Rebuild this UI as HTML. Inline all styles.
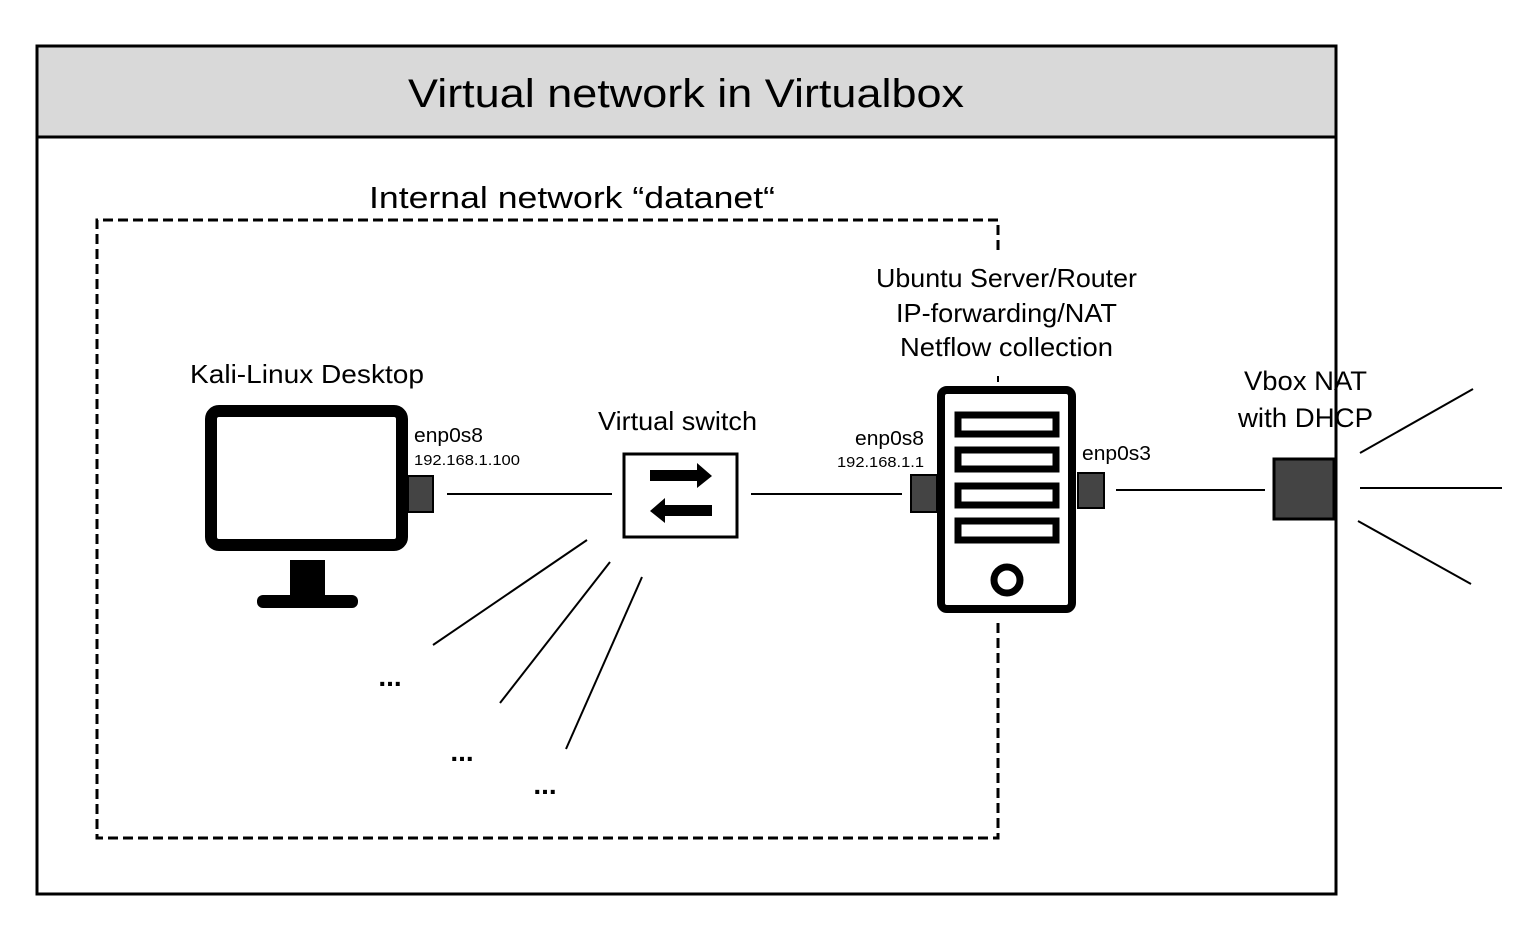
<!DOCTYPE html>
<html><head><meta charset="utf-8"><style>body{margin:0;background:#fff}svg{display:block}text{font-family:"Liberation Sans",sans-serif;fill:#000}</style></head><body>
<svg width="1515" height="931" viewBox="0 0 1515 931" xmlns="http://www.w3.org/2000/svg">
<rect x="37" y="46" width="1299" height="91" fill="#d9d9d9"/>
<rect x="37" y="46" width="1299" height="848" fill="none" stroke="#000" stroke-width="3"/>
<line x1="37" y1="137" x2="1336" y2="137" stroke="#000" stroke-width="3"/>
<text x="408" y="107" font-size="40" textLength="556" lengthAdjust="spacingAndGlyphs">Virtual network in Virtualbox</text>
<text x="369" y="208" font-size="31" textLength="406" lengthAdjust="spacingAndGlyphs">Internal network “datanet“</text>
<path d="M998 250 V220 H97 V838 H998 V618" fill="none" stroke="#000" stroke-width="3" stroke-dasharray="10,5"/>
<line x1="998" y1="376" x2="998" y2="382" stroke="#000" stroke-width="2"/>
<text x="190" y="383" font-size="26" textLength="234" lengthAdjust="spacingAndGlyphs">Kali-Linux Desktop</text>
<rect x="211" y="411" width="191" height="134" rx="8" fill="#fff" stroke="#000" stroke-width="12"/>
<rect x="290" y="560" width="35" height="40" fill="#000"/>
<rect x="257" y="595" width="101" height="13" rx="6" fill="#000"/>
<rect x="408" y="476" width="25" height="36" fill="#444" stroke="#000" stroke-width="2"/>
<text x="414" y="442" font-size="20" textLength="69" lengthAdjust="spacingAndGlyphs">enp0s8</text>
<text x="414" y="465" font-size="15" textLength="106" lengthAdjust="spacingAndGlyphs">192.168.1.100</text>
<line x1="447" y1="494" x2="612" y2="494" stroke="#000" stroke-width="2"/>
<text x="598" y="430" font-size="26" textLength="159" lengthAdjust="spacingAndGlyphs">Virtual switch</text>
<rect x="624" y="454" width="113" height="83" fill="#fff" stroke="#000" stroke-width="3"/>
<path d="M650 470 H697 V463 L712 476 L697 488 V481 H650 Z" fill="#000"/>
<path d="M712 505 H665 V498 L650 511 L665 523 V516 H712 Z" fill="#000"/>
<line x1="751" y1="494" x2="902" y2="494" stroke="#000" stroke-width="2"/>
<line x1="587" y1="540" x2="433" y2="645" stroke="#000" stroke-width="2"/>
<line x1="610" y1="562" x2="500" y2="703" stroke="#000" stroke-width="2"/>
<line x1="642" y1="577" x2="566" y2="749" stroke="#000" stroke-width="2"/>
<text x="390" y="686" font-size="28" font-weight="bold" text-anchor="middle">...</text>
<text x="462" y="761" font-size="28" font-weight="bold" text-anchor="middle">...</text>
<text x="545" y="794" font-size="28" font-weight="bold" text-anchor="middle">...</text>
<text x="876" y="287" font-size="26" textLength="261" lengthAdjust="spacingAndGlyphs">Ubuntu Server/Router</text>
<text x="896" y="322" font-size="26" textLength="221" lengthAdjust="spacingAndGlyphs">IP-forwarding/NAT</text>
<text x="900" y="356" font-size="26" textLength="213" lengthAdjust="spacingAndGlyphs">Netflow collection</text>
<rect x="911" y="475" width="26" height="37" fill="#444" stroke="#000" stroke-width="2"/>
<rect x="941" y="390" width="131" height="219" rx="6" fill="#fff" stroke="#000" stroke-width="8"/>
<rect x="958" y="415" width="98" height="19" fill="#fff" stroke="#000" stroke-width="7"/>
<rect x="958" y="450" width="98" height="19" fill="#fff" stroke="#000" stroke-width="7"/>
<rect x="958" y="486" width="98" height="19" fill="#fff" stroke="#000" stroke-width="7"/>
<rect x="958" y="521" width="98" height="19" fill="#fff" stroke="#000" stroke-width="7"/>
<circle cx="1007" cy="580" r="13" fill="#fff" stroke="#000" stroke-width="7"/>
<rect x="1078" y="473" width="26" height="35" fill="#444" stroke="#000" stroke-width="2"/>
<text x="855" y="445" font-size="20" textLength="69" lengthAdjust="spacingAndGlyphs">enp0s8</text>
<text x="837" y="467" font-size="15" textLength="87" lengthAdjust="spacingAndGlyphs">192.168.1.1</text>
<text x="1082" y="460" font-size="20" textLength="69" lengthAdjust="spacingAndGlyphs">enp0s3</text>
<line x1="1116" y1="490" x2="1265" y2="490" stroke="#000" stroke-width="2"/>
<text x="1244" y="390" font-size="27" textLength="123" lengthAdjust="spacingAndGlyphs">Vbox NAT</text>
<text x="1238" y="427" font-size="27" textLength="135" lengthAdjust="spacingAndGlyphs">with DHCP</text>
<rect x="1274" y="459" width="60" height="60" fill="#444" stroke="#000" stroke-width="3"/>
<line x1="1360" y1="453" x2="1473" y2="389" stroke="#000" stroke-width="2"/>
<line x1="1360" y1="488" x2="1502" y2="488" stroke="#000" stroke-width="2"/>
<line x1="1358" y1="521" x2="1471" y2="584" stroke="#000" stroke-width="2"/>
</svg>
</body></html>
